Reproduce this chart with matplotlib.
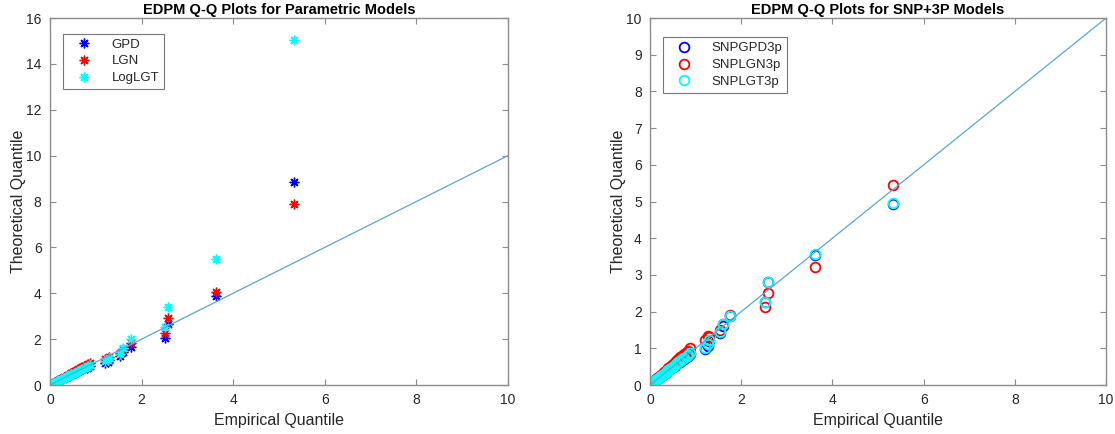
import matplotlib
matplotlib.use("Agg")
import matplotlib.pyplot as plt

plt.rcParams['font.family'] = ['Liberation Sans', 'DejaVu Sans']

# Empirical quantiles (shared x)
emp = [0.02, 0.04, 0.06, 0.08, 0.10, 0.13, 0.16, 0.19, 0.22, 0.25, 0.28, 0.31,
       0.34, 0.37, 0.40, 0.43, 0.46, 0.50, 0.54, 0.58, 0.62, 0.66, 0.70, 0.75,
       0.80, 0.84, 0.88, 1.20, 1.26, 1.30, 1.54, 1.60, 1.76, 2.51, 2.58, 3.62, 5.33]

# Parametric models (theoretical quantiles)
gpd = [0.02, 0.04, 0.06, 0.08, 0.10, 0.13, 0.16, 0.19, 0.22, 0.25, 0.28, 0.31,
       0.34, 0.37, 0.40, 0.43, 0.46, 0.50, 0.54, 0.57, 0.61, 0.64, 0.68, 0.72,
       0.76, 0.80, 0.84, 0.95, 1.00, 1.08, 1.26, 1.45, 1.64, 2.03, 2.66, 3.89, 8.85]
lgn = [0.02, 0.04, 0.06, 0.08, 0.11, 0.14, 0.17, 0.20, 0.24, 0.27, 0.30, 0.34,
       0.37, 0.41, 0.44, 0.48, 0.51, 0.56, 0.60, 0.64, 0.69, 0.73, 0.77, 0.82,
       0.87, 0.91, 0.95, 1.12, 1.18, 1.22, 1.40, 1.55, 1.85, 2.28, 2.91, 4.07, 7.90]
loglgt = [0.02, 0.04, 0.06, 0.08, 0.10, 0.13, 0.16, 0.19, 0.22, 0.25, 0.28, 0.31,
          0.34, 0.37, 0.40, 0.43, 0.46, 0.50, 0.54, 0.58, 0.62, 0.66, 0.70, 0.75,
          0.80, 0.84, 0.88, 1.05, 1.10, 1.18, 1.35, 1.60, 1.99, 2.51, 3.41, 5.50, 15.05]

# SNP+3P models (theoretical quantiles)
snpgpd = [0.02, 0.04, 0.06, 0.08, 0.10, 0.13, 0.16, 0.19, 0.22, 0.25, 0.28, 0.31,
          0.34, 0.37, 0.40, 0.43, 0.46, 0.49, 0.53, 0.57, 0.61, 0.64, 0.68, 0.72,
          0.77, 0.80, 0.84, 0.97, 1.07, 1.20, 1.42, 1.62, 1.88, 2.27, 2.81, 3.55, 4.93]
snplgn = [0.02, 0.04, 0.07, 0.09, 0.12, 0.15, 0.18, 0.21, 0.25, 0.28, 0.31, 0.35,
          0.38, 0.42, 0.45, 0.49, 0.52, 0.57, 0.61, 0.66, 0.71, 0.75, 0.79, 0.84,
          0.89, 0.94, 1.00, 1.22, 1.33, 1.30, 1.50, 1.67, 1.90, 2.12, 2.50, 3.22, 5.45]
snplgt = [0.02, 0.04, 0.06, 0.08, 0.10, 0.13, 0.16, 0.19, 0.22, 0.25, 0.28, 0.31,
          0.34, 0.37, 0.40, 0.43, 0.46, 0.50, 0.54, 0.58, 0.62, 0.66, 0.70, 0.74,
          0.79, 0.82, 0.86, 1.02, 1.12, 1.22, 1.45, 1.65, 1.88, 2.27, 2.81, 3.57, 4.95]

ref_line = [0, 10]

left_labels = ["GPD", "LGN", "LogLGT"]
right_labels = ["SNPGPD3p", "SNPLGN3p", "SNPLGT3p"]
colors = ["#0000ff", "#ff0000", "#00ffff"]
line_color = "#5aa5da"
txt = "#262626"
spine = "#8c8c8c"

fig = plt.figure(figsize=(11.15, 4.34), dpi=100)
ax1 = fig.add_axes([0.0448, 0.1129, 0.4108, 0.8456])
ax2 = fig.add_axes([0.583, 0.1129, 0.409, 0.8456])

ast = (8, 2, 0)
for s, lab, c in zip([gpd, lgn, loglgt], left_labels, colors):
    ax1.plot(emp, s, linestyle="none", marker=ast, markersize=7, markeredgewidth=1.0,
             color=c, label=lab)
ax1.plot(ref_line, ref_line, color=line_color, lw=0.9)

for s, lab, c in zip([snpgpd, snplgn, snplgt], right_labels, colors):
    ax2.plot(emp, s, linestyle="none", marker="o", markersize=7, markeredgewidth=1.3,
             markerfacecolor="none", markeredgecolor=c, label=lab)
ax2.plot(ref_line, ref_line, color=line_color, lw=0.9)

ax1.set_xlim(0, 10); ax1.set_ylim(0, 16)
ax1.set_xticks([0, 2, 4, 6, 8, 10]); ax1.set_yticks(range(0, 17, 2))
ax2.set_xlim(0, 10); ax2.set_ylim(0, 10)
ax2.set_xticks([0, 2, 4, 6, 8, 10]); ax2.set_yticks(range(0, 11))

for ax, title in [(ax1, "EDPM Q-Q Plots for Parametric Models"),
                  (ax2, "EDPM Q-Q Plots for SNP+3P Models")]:
    for sp in ax.spines.values():
        sp.set_color(spine)
        sp.set_linewidth(1.0)
    ax.tick_params(direction="in", top=True, right=True, length=4, width=0.8,
                   colors=spine, labelcolor=txt, labelsize=10, pad=6)
    ax.set_xlabel("Empirical Quantile", fontsize=11.5, color=txt, labelpad=4)
    ax.set_ylabel("Theoretical Quantile", fontsize=11.5, color=txt, labelpad=0)
    ax.set_title(title, fontsize=10.5, fontweight="bold", color="black", pad=3)

leg1 = ax1.legend(loc="upper left", bbox_to_anchor=(0.015, 0.975), fontsize=9.5,
                  frameon=True, fancybox=False, edgecolor="#555555", borderpad=0.35,
                  handletextpad=0.9, labelspacing=0.35, handlelength=2.4)
leg2 = ax2.legend(loc="upper left", bbox_to_anchor=(0.015, 0.965), fontsize=9.5,
                  frameon=True, fancybox=False, edgecolor="#555555", borderpad=0.35,
                  handletextpad=0.9, labelspacing=0.35, handlelength=2.4)
for leg in (leg1, leg2):
    leg.get_frame().set_linewidth(0.8)
    for t in leg.get_texts():
        t.set_color(txt)

fig.savefig("out.png", dpi=100)
